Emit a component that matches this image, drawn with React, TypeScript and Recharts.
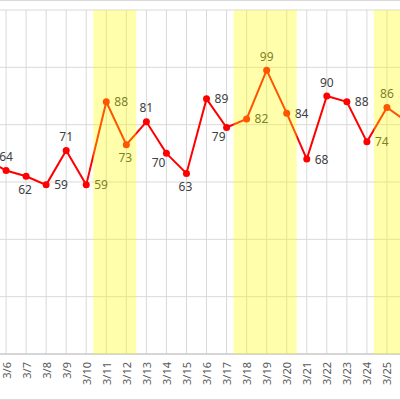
import React from 'react';
import { LineChart, Line, XAxis, YAxis, CartesianGrid, ReferenceArea, LabelList } from 'recharts';

const dates = ['3/5', '3/6', '3/7', '3/8', '3/9', '3/10', '3/11', '3/12', '3/13', '3/14', '3/15', '3/16', '3/17', '3/18', '3/19', '3/20', '3/21', '3/22', '3/23', '3/24', '3/25', '3/26'];
const values = [68, 64, 62, 59, 71, 59, 88, 73, 81, 70, 63, 89, 79, 82, 99, 84, 68, 90, 88, 74, 86, 81];
const yTicks = [0, 20, 40, 60, 80, 100, 120];
const shadedRanges = [
  ['3/11', '3/12'],
  ['3/18', '3/20'],
  ['3/25', '3/26'],
];
const labelPlacement = ['top', 'top', 'bottom', 'right', 'top', 'right', 'right', 'bottom', 'top', 'lowerLeft', 'bottom', 'right', 'lowerLeft', 'right', 'top', 'right', 'right', 'top', 'right', 'right', 'top', 'right'];

const data = dates.map((d, i) => ({ i, date: d, value: values[i] }));
const xTicks = dates.map((_, i) => i);

const FONT = '"Noto Sans", "DejaVu Sans", sans-serif';

const DateTick = (props: any) => {
  const { x, y, payload } = props;
  const label = dates[payload.value];
  return (
    <text
      x={x}
      y={y}
      transform={`rotate(-90 ${x} ${y})`}
      textAnchor="end"
      dominantBaseline="central"
      fontFamily={FONT}
      fontSize={11}
      fill="#595959"
    >
      {label}
    </text>
  );
};

const ValueLabel = (props: any) => {
  const { x, y, value, index } = props;
  const pos = labelPlacement[index] || 'top';
  let dx = 0;
  let dy = -14;
  let anchor: 'start' | 'middle' | 'end' = 'middle';
  if (pos === 'bottom') {
    dx = -1;
    dy = 13;
  } else if (pos === 'right') {
    dx = 8;
    dy = 0;
    anchor = 'start';
  } else if (pos === 'lowerLeft') {
    dx = -1;
    dy = 9;
    anchor = 'end';
  }
  return (
    <text
      x={x + dx}
      y={y + dy}
      textAnchor={anchor}
      dominantBaseline="central"
      fontFamily={FONT}
      fontSize={12}
      fill="#404040"
    >
      {value}
    </text>
  );
};

export default function App() {
  return (
    <div
      style={{
        position: 'fixed',
        left: 0,
        top: 0,
        width: 400,
        height: 400,
        overflow: 'hidden',
        background: '#ffffff',
      }}
    >
      <div style={{ position: 'absolute', left: -14.5, top: 0 }}>
        <LineChart width={421} height={400} data={data} margin={{ top: 10, right: 0, bottom: 0, left: 0 }}>
          <CartesianGrid stroke="#d9d9d9" strokeWidth={1} />
          <XAxis
            dataKey="i"
            type="number"
            domain={[0, dates.length - 1]}
            ticks={xTicks}
            interval={0}
            tick={<DateTick />}
            tickLine={false}
            axisLine={{ stroke: '#bfbfbf', strokeWidth: 1 }}
            height={46}
            allowDataOverflow
          />
          <YAxis hide domain={[0, 120]} ticks={yTicks} width={0} />
          <Line
            type="linear"
            dataKey="value"
            stroke="#ff0000"
            strokeWidth={2}
            dot={{ r: 3.5, fill: '#ff0000', stroke: '#ff0000', strokeWidth: 0 }}
            activeDot={false}
            isAnimationActive={false}
          >
            <LabelList dataKey="value" content={<ValueLabel />} />
          </Line>
          {shadedRanges.map(([a, b], k) => (
            <ReferenceArea
              key={k}
              x1={dates.indexOf(a) - 0.65}
              x2={dates.indexOf(b) + 0.5}
              fill="#ffff00"
              fillOpacity={0.33}
              stroke="none"
              ifOverflow="hidden"
              zIndex={3000}
            />
          ))}
        </LineChart>
      </div>
      <div style={{ position: 'absolute', left: 0, top: 0, width: 400, height: 1, background: '#d9d9d9' }} />
      <div style={{ position: 'absolute', left: 0, top: 399, width: 400, height: 1, background: '#d9d9d9' }} />
    </div>
  );
}
